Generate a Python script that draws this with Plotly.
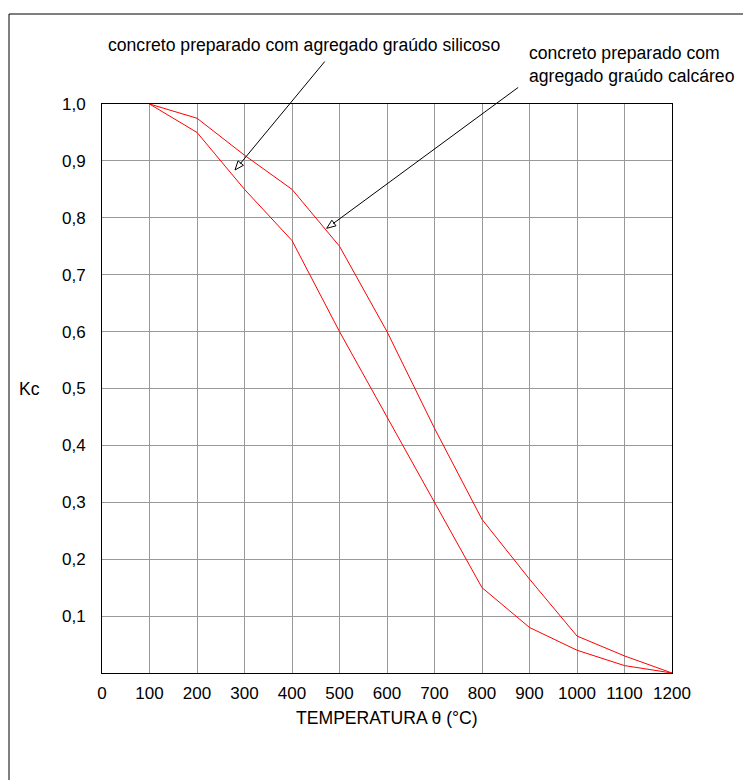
import math
import plotly.graph_objects as go

# ---- data ----
temperatura = [100, 200, 300, 400, 500, 600, 700, 800, 900, 1000, 1100, 1200]
kc_silicoso = [1.00, 0.95, 0.85, 0.76, 0.60, 0.45, 0.30, 0.15, 0.08, 0.04, 0.013, 0.00]
kc_calcareo = [1.00, 0.975, 0.91, 0.85, 0.75, 0.60, 0.43, 0.27, 0.165, 0.065, 0.03, 0.00]

x_ticks = [0, 100, 200, 300, 400, 500, 600, 700, 800, 900, 1000, 1100, 1200]
x_ticklabels = ["0", "100", "200", "300", "400", "500", "600", "700", "800", "900", "1000", "1100", "1200"]
y_ticks = [0.1, 0.2, 0.3, 0.4, 0.5, 0.6, 0.7, 0.8, 0.9, 1.0]
y_ticklabels = ["0,1", "0,2", "0,3", "0,4", "0,5", "0,6", "0,7", "0,8", "0,9", "1,0"]

label_silicoso = "concreto preparado com agregado graúdo silicoso"
label_calcareo = "concreto preparado com<br>agregado graúdo calcáreo"

FONT = "Liberation Sans, Arial, sans-serif"
FS = 17
FS_ANN = 17.6

OFF = 8  # page body margin
W, H = 751 - OFF, 780 - OFF
L, T = 102 - OFF, 104 - OFF
PW, PH = 570, 569
R = W - L - PW
B = H - T - PH


def px2paper_x(px):
    # px in screenshot coordinates
    return (px - OFF - L) / PW


def px2paper_y(py):
    return (T + PH - (py - OFF)) / PH


fig = go.Figure()
fig.add_trace(go.Scatter(x=temperatura, y=kc_silicoso, mode="lines",
                         line=dict(color="#ff0000", width=1), showlegend=False))
fig.add_trace(go.Scatter(x=temperatura, y=kc_calcareo, mode="lines",
                         line=dict(color="#ff0000", width=1), showlegend=False))

annotations = []
shapes = []

# arrows: (head data x, head data y, tail offset px ax, ay)
arrows = [
    (280, 0.884, 91, -110),
    (473, 0.7815, 193, -142),
]
for hx, hy, ax, ay in arrows:
    annotations.append(dict(x=hx, y=hy, xref="x", yref="y", ax=ax, ay=ay,
                            axref="pixel", ayref="pixel", text="", showarrow=True,
                            arrowhead=0, arrowwidth=1, arrowcolor="#000000", standoff=8))
    Lh = math.hypot(ax, ay)
    ux, uy = ax / Lh, ay / Lh
    px_, py_ = -uy, ux
    blen, bw = 9, 3.5
    bx, by = blen * ux, blen * uy
    c1 = (bx + bw * px_, by + bw * py_)
    c2 = (bx - bw * px_, by - bw * py_)
    path = f"M 0 0 L {c1[0]:.2f} {-c1[1]:.2f} L {c2[0]:.2f} {-c2[1]:.2f} Z"
    shapes.append(dict(type="path", xref="x", yref="y", xsizemode="pixel", ysizemode="pixel",
                       xanchor=hx, yanchor=hy, path=path,
                       line=dict(color="#000000", width=1), fillcolor="#ffffff", layer="above"))

annotations.append(dict(x=px2paper_x(304), y=px2paper_y(45), xref="paper", yref="paper",
                        text=label_silicoso, showarrow=False, xanchor="center", yanchor="middle",
                        font=dict(family=FONT, size=FS_ANN, color="#000000")))
annotations.append(dict(x=px2paper_x(527), y=px2paper_y(64), xref="paper", yref="paper",
                        text=label_calcareo, showarrow=False, xanchor="left", yanchor="middle",
                        align="left", font=dict(family=FONT, size=FS_ANN, color="#000000")))
annotations.append(dict(x=px2paper_x(387), y=px2paper_y(718), xref="paper", yref="paper",
                        text="TEMPERATURA θ (°C)", showarrow=False, xanchor="center", yanchor="middle",
                        font=dict(family=FONT, size=FS_ANN, color="#000000")))
annotations.append(dict(x=px2paper_x(29), y=0.5, xref="paper", yref="paper",
                        text="Kc", showarrow=False, xanchor="center", yanchor="middle",
                        font=dict(family=FONT, size=FS_ANN, color="#000000")))

# outer frame (cut off at right and bottom)
shapes.append(dict(type="rect", xref="paper", yref="paper",
                   x0=px2paper_x(9), x1=px2paper_x(790), y0=px2paper_y(810), y1=px2paper_y(14),
                   line=dict(color="#000000", width=1), fillcolor="rgba(0,0,0,0)", layer="below"))

fig.update_layout(
    width=W, height=H,
    margin=dict(l=L, r=R, t=T, b=B, pad=0, autoexpand=False),
    paper_bgcolor="#ffffff", plot_bgcolor="#ffffff",
    font=dict(family=FONT, size=FS, color="#000000"),
    annotations=annotations, shapes=shapes, showlegend=False,
)
fig.update_xaxes(range=[0, 1200], tickvals=x_ticks, ticktext=x_ticklabels, tickangle=0,
                 showgrid=True, gridcolor="#999999", gridwidth=1, zeroline=False,
                 showline=True, linecolor="#000000", linewidth=1, mirror=True,
                 ticks="outside", ticklen=5, tickcolor="rgba(0,0,0,0)",
                 tickfont=dict(family=FONT, size=FS, color="#000000"))
fig.update_yaxes(range=[0, 1], tickvals=y_ticks, ticktext=y_ticklabels,
                 showgrid=True, gridcolor="#999999", gridwidth=1, zeroline=False,
                 showline=True, linecolor="#000000", linewidth=1, mirror=True,
                 ticks="outside", ticklen=12, tickcolor="rgba(0,0,0,0)",
                 tickfont=dict(family=FONT, size=FS, color="#000000"))

fig.write_html("out.html")
